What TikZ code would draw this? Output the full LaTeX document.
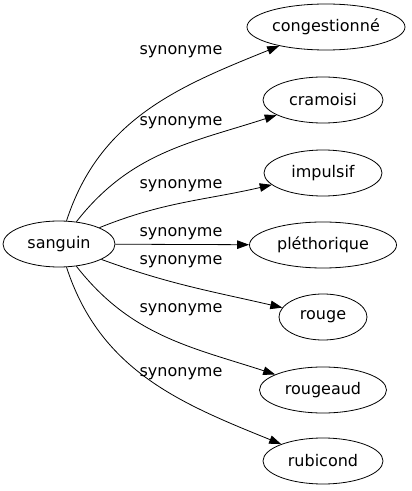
\documentclass[tikz,border=0pt]{standalone}
\usepackage{fontspec}
\setmainfont{DejaVu Sans}
\usetikzlibrary{shapes.geometric,arrows.meta}
\tikzstyle{word} = [ellipse, draw = black, line width = 0.8pt, minimum height = 46pt, inner sep = 0pt, text centered, font = \fontsize{16}{19}\selectfont]
\tikzstyle{rel} = [inner sep = 0pt, font = \fontsize{16}{19}\selectfont]
\tikzstyle{arrow} = [line width = 0.8pt, -{Triangle[length=12pt,width=8.5pt]}]

\begin{document}
\begin{tikzpicture}[x = 1pt, y = 1pt]
\useasboundingbox (0,0) rectangle (412,491);

\node(sanguin)      [word, minimum width = 112pt] at (59,247)  {sanguin};
\node(congestionne) [word, minimum width = 158pt] at (326,464) {congestionné};
\node(cramoisi)     [word, minimum width = 120pt] at (323,391) {cramoisi};
\node(impulsif)     [word, minimum width = 118pt] at (323,318) {impulsif};
\node(plethorique)  [word, minimum width = 147pt] at (323,246) {pléthorique};
\node(rouge)        [word, minimum width = 88pt]  at (323,174) {rouge};
\node(rougeaud)     [word, minimum width = 127pt] at (323,101) {rougeaud};
\node(rubicond)     [word, minimum width = 120pt] at (323,30)  {rubicond};

\node(lcongestionne) [rel] at (181,439) {synonyme};
\node(lcramoisi)     [rel] at (181,368) {synonyme};
\node(limpulsif)     [rel] at (181,305) {synonyme};
\node(lplethorique)  [rel] at (181,257) {synonyme};
\node(lrouge)        [rel] at (181,229) {synonyme};
\node(lrougeaud)     [rel] at (181,181) {synonyme};
\node(lrubicond)     [rel] at (181,117) {synonyme};

\draw [arrow] (sanguin) to[out=72, in=202] (congestionne);
\draw [arrow] (sanguin) to[out=52, in=198] (cramoisi);
\draw [arrow] (sanguin) to[out=22, in=193] (impulsif);
\draw [arrow] (sanguin) -- (plethorique);
\draw [arrow] (sanguin) to[out=-20, in=167] (rouge);
\draw [arrow] (sanguin) to[out=-52, in=162] (rougeaud);
\draw [arrow] (sanguin) to[out=-72, in=158] (rubicond);

\end{tikzpicture}
\end{document}
